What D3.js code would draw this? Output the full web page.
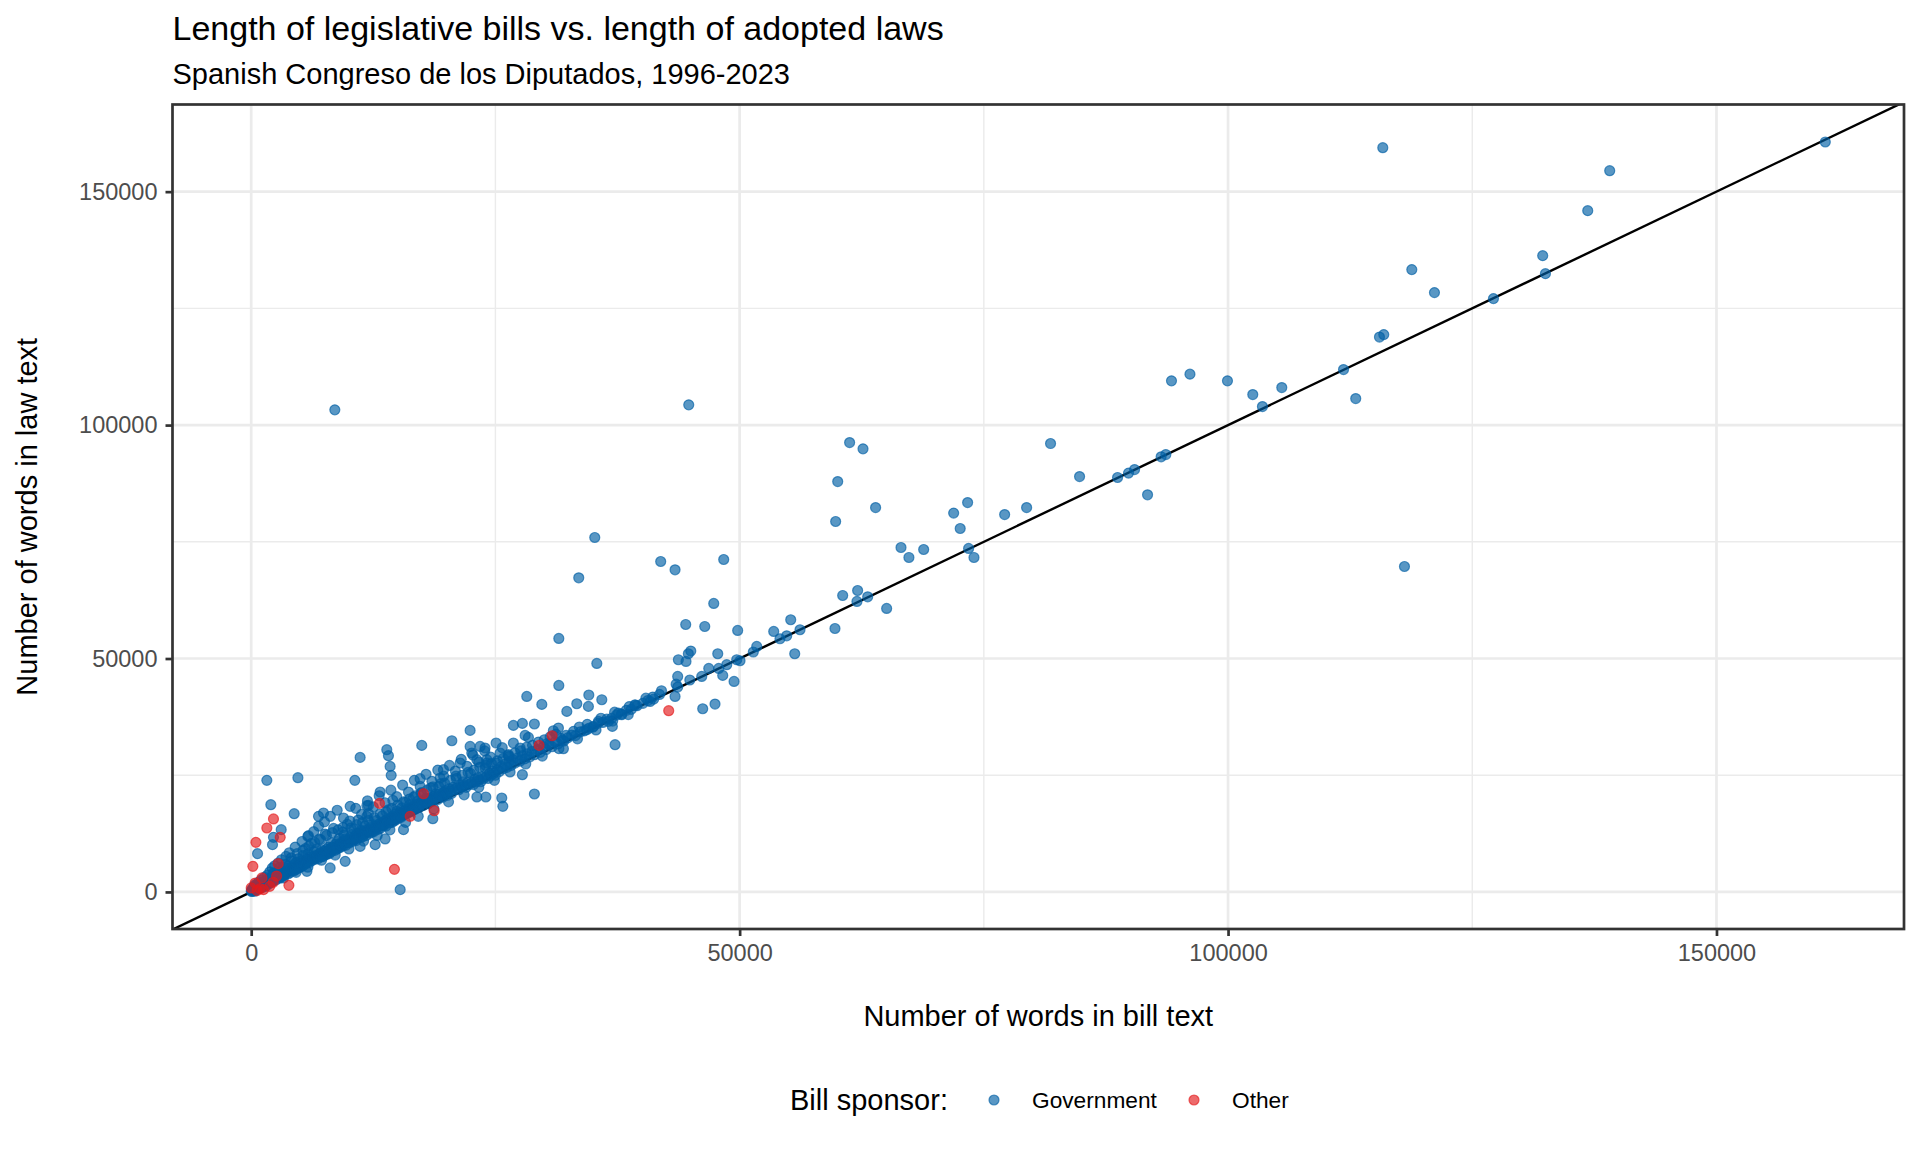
<!DOCTYPE html>
<html>
<head>
<meta charset="utf-8">
<script src="https://cdn.jsdelivr.net/npm/d3@7"></script>
<style>
    body { margin: 0; background: #fff; }
    svg { display: block; }
    text { font-family: "Liberation Sans", Arial, sans-serif; }
</style>
</head>
<body>
<svg id="drawing_region"></svg>
<script>
// ---- data ----
const sponsors = ["Government", "Other"];

const xTicks = [0, 50000, 100000, 150000];
const xMinorTicks = [25000, 75000, 125000];
const yTicks = [0, 50000, 100000, 150000];
const yMinorTicks = [25000, 75000, 125000];

// [words in bill, words in law]
const governmentPoints = [
    // dense band, small bills
    [0,150],[50,420],[100,90],[150,700],[200,260],[260,980],[300,520],[340,1400],[380,160],[420,820],
    [470,1150],[520,450],[560,1700],[600,900],[650,1300],[700,620],[760,2100],[800,1050],[850,1500],[900,760],
    [960,1900],[1000,1200],[1050,2600],[1100,1450],[1150,980],[1200,1750],[1260,2200],[1300,1350],[1350,3100],[1400,1600],
    [1450,2000],[1500,1200],[1560,2450],[1600,1800],[1650,3600],[1700,2100],[1760,1650],[1800,2700],[1860,2250],[1900,4300],
    [1950,1950],[2000,2500],[2050,3000],[2100,2200],[2150,5100],[2200,2700],[2250,3400],[2300,2400],[2380,4100],[2450,2900],
    [2500,3300],[2560,2600],[2620,3800],[2700,3100],[2760,6200],[2800,3500],[2870,2950],[2930,4300],[3000,3600],[3060,3200],
    [3120,4700],[3180,3800],[3250,3400],[3300,5300],[3370,4000],[3420,3600],[3500,4400],[3560,7600],[3600,4100],[3680,5000],
    [3740,4300],[3800,3900],[3860,5600],[3920,4600],[4000,4200],[4060,5100],[4120,6600],[4200,4700],[4260,5400],[4330,4500],
    [4400,5900],[4460,5000],[4520,4700],[4600,6300],[4660,5300],[4720,5000],[4800,7100],[4860,5600],[4920,5200],[4980,6000],
    [5050,5400],[5100,6700],[5160,5900],[5220,5500],[5300,7800],[5360,6200],[5420,5800],[5500,6600],[5560,9300],[5620,6100],
    [5700,7000],[5760,6400],[5820,8200],[5900,6800],[5960,6300],[6030,7400],[6100,7000],[6160,10400],[6220,6700],[6300,7600],
    [6360,7200],[6420,8600],[6500,7000],[6560,7800],[6630,7300],[6700,9200],[6760,7600],[6820,7100],[6900,8000],[6960,11300],
    [7030,7700],[7100,8400],[7160,7500],[7230,9000],[7300,8100],[7360,7600],[7430,8700],[7500,8300],[7570,12400],[7630,8000],
    [7700,9100],[7760,8500],[7830,8100],[7900,9600],[7960,8800],[8030,8300],[8100,9300],[8170,10500],[8230,8700],[8300,9600],
    [8370,9100],[8430,13600],[8500,9400],[8570,8900],[8630,10200],[8700,9700],[8770,9200],[8830,10800],[8900,9900],[8970,9400],
    [9030,11500],[9100,10100],[9170,9600],[9230,10600],[9300,10300],[9370,12800],[9430,9900],[9500,10700],[9570,10400],[9630,11300],
    [9700,10000],[9770,11000],[9830,14500],[9900,10600],[9970,11200],
    // dense band, medium bills
    [10050,10500],[10120,11600],[10200,11000],[10280,12300],[10350,10800],[10430,11500],[10500,13500],[10580,11200],[10650,11900],[10730,11000],
    [10800,12500],[10880,11600],[10950,15400],[11030,12000],[11100,12700],[11180,11700],[11250,13200],[11330,12300],[11400,11800],[11480,12900],
    [11550,12400],[11630,14100],[11700,12600],[11780,12100],[11850,13300],[11930,12800],[12000,16800],[12080,13100],[12150,12600],[12230,13800],
    [12300,13200],[12380,12800],[12450,14400],[12530,13400],[12600,13000],[12680,14000],[12750,13600],[12830,15300],[12900,13900],[12980,13400],
    [13050,14500],[13130,14100],[13200,13600],[13280,14800],[13350,14300],[13430,16300],[13500,14700],[13580,14200],[13650,15200],[13730,14600],
    [13800,14100],[13880,15500],[13950,15000],[14030,17600],[14100,15300],[14180,14800],[14250,15900],[14330,15400],[14400,14900],[14480,16200],
    [14550,15700],[14630,15200],[14700,16600],[14780,16000],[14850,15500],[14930,17300],
    [15010,16300],[15100,15800],[15180,17000],[15260,16500],[15340,16000],[15420,18000],[15500,16900],[15580,16400],[15660,17400],[15740,16900],
    [15820,19200],[15900,17300],[15980,16800],[16060,17800],[16140,17400],[16220,18700],[16300,17700],[16380,17200],[16460,18200],[16540,17800],
    [16620,20300],[16700,18100],[16780,17700],[16860,18700],[16940,18200],[17020,19400],[17100,18500],[17180,18100],[17260,19000],[17340,18600],
    [17420,21200],[17500,19000],[17600,18500],[17700,19600],[17800,19100],[17900,20100],[18000,19400],[18100,18900],[18200,20000],[18300,19600],
    [18400,22300],[18500,20000],[18600,19500],[18700,20500],[18800,20100],[18900,21000],[19000,20400],[19100,19800],[19200,20900],[19300,20500],
    [19400,23200],[19500,20800],[19600,20300],[19700,21300],[19800,20900],[19900,21700],
    [20000,21200],[20100,20700],[20250,22100],[20400,21600],[20500,21100],[20650,22400],[20800,21900],[20950,24800],[21100,22300],[21250,21900],
    [21400,22900],[21550,22500],[21700,23600],[21850,22800],[22000,22400],[22150,23400],[22300,23000],[22450,25400],[22600,23400],[22750,23000],
    [22900,24100],[23050,23600],[23200,24500],[23350,24000],[23500,23600],[23650,24700],[23800,24300],[23950,26500],[24100,24800],[24250,24300],
    [24400,25400],[24550,25000],[24700,25900],[24850,25400],[25000,25000],
    // band, larger bills
    [25200,26200],[25400,25800],[25600,26900],[25800,26400],[26000,27400],[26200,26700],[26400,27900],[26600,27100],[26800,28300],[27000,27600],
    [27250,28700],[27500,28000],[27750,29200],[28000,28500],[28250,29600],[28500,28900],[28750,30100],[29000,29400],[29300,30500],[29600,29900],
    [29900,31100],[30200,30500],[30500,31600],[30800,31100],[31100,32200],[31400,31700],[31700,32900],[32000,32300],
    [32400,33000],[32800,33600],[33200,33500],[33700,34300],[34100,34500],[34600,35100],[35000,35300],[35500,36100],[36000,36300],[36400,37000],
    [36900,37200],[37400,37900],[37900,38100],[38400,38900],[38900,39100],[39500,39900],[40100,40400],[40600,41000],[41200,41300],[41800,42300],
    // upper edge of the band
    [2400,5600],[3100,6900],[3900,8400],[4500,9600],[5200,10800],[5800,11900],[6400,12900],[6900,14100],[7500,15000],[8100,16200],
    [8800,17500],[9400,13800],[10100,15200],[10700,17900],[11300,16600],[11900,19500],[12500,18200],[13100,20600],[13700,19100],[14300,21800],
    [14900,20400],[15500,22900],[16100,21400],[16700,23900],[17300,22600],[17900,25200],[18500,23700],[19100,26100],[19700,24800],[20300,27100],
    [20900,25900],[21500,28400],[22100,26900],[22700,29300],[23300,27800],[23900,30200],[24500,28900],[25100,27600],[25700,30900],[26300,29200],
    // middle of the band
    [2200,3900],[2900,5200],[3500,5900],[4100,7300],[4700,8200],[5300,8900],[5900,9800],[6500,10600],[7100,11200],[7700,12100],
    [8300,12700],[8900,13300],[9500,12200],[10200,13700],[10800,14400],[11400,14900],[12000,15300],[12600,15900],[13200,16700],[13800,17200],
    [14400,17900],[15000,18600],[15600,19300],[16200,19900],[16800,20600],[17400,21200],[18000,21800],[18600,22500],[19200,22600],[19800,23300],
    [20400,23900],[21000,24300],[21600,25000],[22200,25600],[22800,26100],[23400,26700],[24000,27100],[24600,27500],[25200,28100],[25800,28600],
    [26400,29000],[27000,29800],[27600,30200],[28200,31000],[28800,31400],[29400,32100],[30000,32600],[30600,33200],[31200,33800],
    // lower edge of the band
    [3300,3000],[4600,4200],[5800,5300],[7200,6800],[8600,7900],[10000,9200],[11500,10900],[12900,12100],[14200,13300],[15800,14900],
    [17100,16200],[18700,17800],[20200,19300],[21800,20800],[23300,22400],[24900,23900],[26500,25700],[28100,27400],[29800,29100],[31500,30700],
    [33400,32800],[35300,34700],[37000,36600],[38600,38000],
    [30300,31800],[31900,32500],[33000,34400],[34400,35900],[35800,37200],[37200,38500],[38700,39700],[40400,41500],[42000,43100],[43500,44500],[44900,45400],
    // scattered points
    [161140,160640],[115840,159420],[139070,154490],[136820,145930],[132210,136290],[132490,132440],[118810,133300],[121130,128380],[127170,127090],
    [115500,118850],[115940,119380],[111820,111890],[113070,105680],[105500,108040],[102530,106540],[103520,103970],[99940,109470],[96100,110910],
    [94210,109470],[93150,93200],[93630,93690],[90430,90480],[89810,89710],[88690,88770],[91760,85060],[84800,88980],[81830,96050],[79380,82340],
    [77130,80840],[73340,83410],[71910,81150],[72580,77850],[66520,73780],[67330,71640],[68840,73350],[73440,73570],[73990,71640],
    [61260,96260],[62630,94910],[60040,87910],[63920,82340],[59830,79350],[118060,69710],
    [60550,63500],[62080,64570],[62010,62220],[63110,63220],[65050,60720],[59760,56430],
    [53490,55800],[54130,54230],[54820,54870],[55230,58300],[56180,56160],[55640,51020],
    [51400,51390],[51750,52590],[49700,49740],[50040,49520],[49430,45090],
    [47860,47870],[48680,48670],[48270,46380],[46120,46160],[46840,47870],
    [47760,51020],[45000,51600],[44750,51020],[43730,49740],[44510,49370],
    [43660,46160],[43660,43890],[43390,41880],[46220,39240],[47480,40250],
    [40830,40810],[41110,41750],[39300,39950],[37930,37960],
    [44790,104330],[41920,70780],[43390,69000],[48370,71210],[47350,61790],[44480,57290],[46430,56860],[49800,56010],
    [8560,103260],[35170,75920],[33530,67290],[31490,54300],[35380,48940],[31490,44230],[28210,41880],[34560,42180],[35890,41170],
    [29750,40170],[32310,38670],[33330,40310],[34520,39740],[26840,35670],[27760,36100],[28990,35970],[28040,33530],[28380,33100],
    [30930,34530],[31450,35110],[32230,33530],[31960,30680],[33590,35330],[34350,34750],[35020,35460],[35540,36530],[36560,36530],
    [36970,35460],[37590,38320],[37250,31540],[39290,40100],
    [22410,34600],[20540,32390],[17460,31390],[13880,30470],[14050,29180],[14220,26890],[14330,24970],[11150,28820],
    [25070,31900],[26840,31900],[25480,29760],[26330,29400],[27530,30830],
    [22580,29760],[23100,28330],[24120,28330],[21390,27620],[19680,26180],[17290,24260],
    [27760,25110],[25650,20120],[25760,18330],[28990,20980],[23100,20340],[24020,20340],
    [13200,21410],[12000,18540],[14500,19610],[11840,16190],
    [1600,23900],[4780,24470],[2010,18690],[4400,16760],[650,8200],[10610,23900],[15250,490],[3070,13340],[2280,11690],[2180,10130],
    [10130,18330],[9450,15840],[7400,16910],[6890,16190],[5860,12050],[11840,18480],[19340,24410],[22410,31170],[23430,31170],[23940,30830],[24120,27620],
    [8080,5140],[9620,6550],[5700,4410],[12690,10130],[11150,9760],[13710,11350],[18590,15690],[15590,13340]
];

const otherPoints = [
    [2280,15630],[1600,13700],[480,10620],[170,5480],[2970,11690],[13130,18970],[14660,4840],[3860,1410],
    [42740,38820],[30800,33460],[29470,31390],[17640,21050],[18730,17400],[16270,16190],[2760,6060],
    [0,860],[1260,490],[2250,2060],[600,300],[1900,1200],[400,1900],[1100,3000],[2600,3400],[900,700]
];

const seriesData = [governmentPoints, otherPoints];

const config = {
    parent: '#drawing_region',
    width: 1920,
    height: 1152,
    margin: {top:104.5, right:16, bottom:223, left:172.5},
    colors: ["#0060A4", "#E41A1C"],
    alpha: 0.65
};

class ScatterPlot {

    constructor( config, data ) {
        this.config = config;
        this.data = data;
        this.init();
    }

    init() {
        let self = this;

        self.svg = d3.select( self.config.parent )
            .attr('width', self.config.width)
            .attr('height', self.config.height);

        self.inner_width = self.config.width - self.config.margin.left - self.config.margin.right;
        self.inner_height = self.config.height - self.config.margin.top - self.config.margin.bottom;

        self.chart = self.svg.append('g')
            .attr('transform', `translate(${self.config.margin.left}, ${self.config.margin.top})`);

        self.svg.append('clipPath')
            .attr('id', 'panel-clip')
            .append('rect')
            .attr('width', self.inner_width)
            .attr('height', self.inner_height);

        self.xscale = d3.scaleLinear().range([0, self.inner_width]);
        self.yscale = d3.scaleLinear().range([self.inner_height, 0]);

        self.xaxis = d3.axisBottom( self.xscale )
            .tickValues( xTicks )
            .tickSize(7)
            .tickPadding(8)
            .tickFormat(d3.format('d'));

        self.yaxis = d3.axisLeft( self.yscale )
            .tickValues( yTicks )
            .tickSize(7)
            .tickPadding(8)
            .tickFormat(d3.format('d'));
    }

    update() {
        let self = this;
        const all = self.data.flat();
        // ggplot style 5% expansion
        const [x0, x1] = d3.extent( all, d => d[0] );
        const [y0, y1] = d3.extent( all, d => d[1] );
        const xp = (x1 - x0) * 0.05, yp = (y1 - y0) * 0.05;
        self.xscale.domain( [x0 - xp, x1 + xp] );
        self.yscale.domain( [y0 - yp, y1 + yp] );
        self.render();
    }

    render() {
        let self = this;
        const W = self.inner_width, H = self.inner_height;

        // grid
        self.chart.selectAll('.xminor').data(xMinorTicks).enter().append('line')
            .attr('x1', d => self.xscale(d)).attr('x2', d => self.xscale(d))
            .attr('y1', 0).attr('y2', H)
            .attr('stroke', '#EBEBEB').attr('stroke-width', 1.4);
        self.chart.selectAll('.yminor').data(yMinorTicks).enter().append('line')
            .attr('y1', d => self.yscale(d)).attr('y2', d => self.yscale(d))
            .attr('x1', 0).attr('x2', W)
            .attr('stroke', '#EBEBEB').attr('stroke-width', 1.4);
        self.chart.selectAll('.xmajor').data(xTicks).enter().append('line')
            .attr('x1', d => self.xscale(d)).attr('x2', d => self.xscale(d))
            .attr('y1', 0).attr('y2', H)
            .attr('stroke', '#EBEBEB').attr('stroke-width', 2.7);
        self.chart.selectAll('.ymajor').data(yTicks).enter().append('line')
            .attr('y1', d => self.yscale(d)).attr('y2', d => self.yscale(d))
            .attr('x1', 0).attr('x2', W)
            .attr('stroke', '#EBEBEB').attr('stroke-width', 2.7);

        // y = x reference line
        const dom = self.xscale.domain();
        self.chart.append('g').attr('clip-path', 'url(#panel-clip)')
            .append('line')
            .attr('x1', self.xscale(dom[0])).attr('y1', self.yscale(dom[0]))
            .attr('x2', self.xscale(dom[1])).attr('y2', self.yscale(dom[1]))
            .attr('stroke', '#000').attr('stroke-width', 2.4);

        // points
        const pts = self.chart.append('g').attr('clip-path', 'url(#panel-clip)');
        self.data.forEach( (series, i) => {
            pts.append('g').selectAll('circle').data(series).enter()
                .append('circle')
                .attr('cx', d => self.xscale(d[0]))
                .attr('cy', d => self.yscale(d[1]))
                .attr('r', 5)
                .attr('fill', self.config.colors[i])
                .attr('fill-opacity', self.config.alpha)
                .attr('stroke', self.config.colors[i])
                .attr('stroke-opacity', self.config.alpha)
                .attr('stroke-width', 1.2);
        });

        // panel border
        self.chart.append('rect')
            .attr('width', W).attr('height', H)
            .attr('fill', 'none')
            .attr('stroke', '#333333').attr('stroke-width', 2.7);

        // axes
        const xg = self.chart.append('g')
            .attr('transform', `translate(0, ${H})`)
            .call( self.xaxis );
        const yg = self.chart.append('g')
            .call( self.yaxis );
        [xg, yg].forEach( g => {
            g.select('.domain').remove();
            g.selectAll('.tick line').attr('stroke', '#333333').attr('stroke-width', 2.7);
            g.selectAll('.tick text')
                .attr('fill', '#4D4D4D')
                .style('font-size', '23.5px')
                .style('font-family', '"Liberation Sans", Arial, sans-serif');
        });

        // titles
        self.svg.append('text')
            .attr('x', self.config.margin.left).attr('y', 40)
            .style('font-size', '34px')
            .text('Length of legislative bills vs. length of adopted laws');
        self.svg.append('text')
            .attr('x', self.config.margin.left).attr('y', 84)
            .style('font-size', '29px')
            .text('Spanish Congreso de los Diputados, 1996-2023');

        self.svg.append('text')
            .attr('x', self.config.margin.left + W / 2).attr('y', 1026)
            .attr('text-anchor', 'middle')
            .style('font-size', '29px')
            .text('Number of words in bill text');
        self.svg.append('text')
            .attr('transform', `translate(37, ${self.config.margin.top + H / 2}) rotate(-90)`)
            .attr('text-anchor', 'middle')
            .style('font-size', '29px')
            .text('Number of words in law text');

        // legend
        const legend = self.svg.append('g');
        legend.append('text')
            .attr('x', 790).attr('y', 1110)
            .style('font-size', '29px')
            .text('Bill sponsor:');
        const keyX = [994, 1194];
        sponsors.forEach( (s, i) => {
            legend.append('circle')
                .attr('cx', keyX[i]).attr('cy', 1100).attr('r', 5)
                .attr('fill', self.config.colors[i])
                .attr('fill-opacity', self.config.alpha)
                .attr('stroke', self.config.colors[i])
                .attr('stroke-opacity', self.config.alpha)
                .attr('stroke-width', 1.2);
            legend.append('text')
                .attr('x', keyX[i] + 38).attr('y', 1108)
                .style('font-size', '22.7px')
                .text(s);
        });
    }
}

const scatter = new ScatterPlot( config, seriesData );
scatter.update();
</script>
</body>
</html>
